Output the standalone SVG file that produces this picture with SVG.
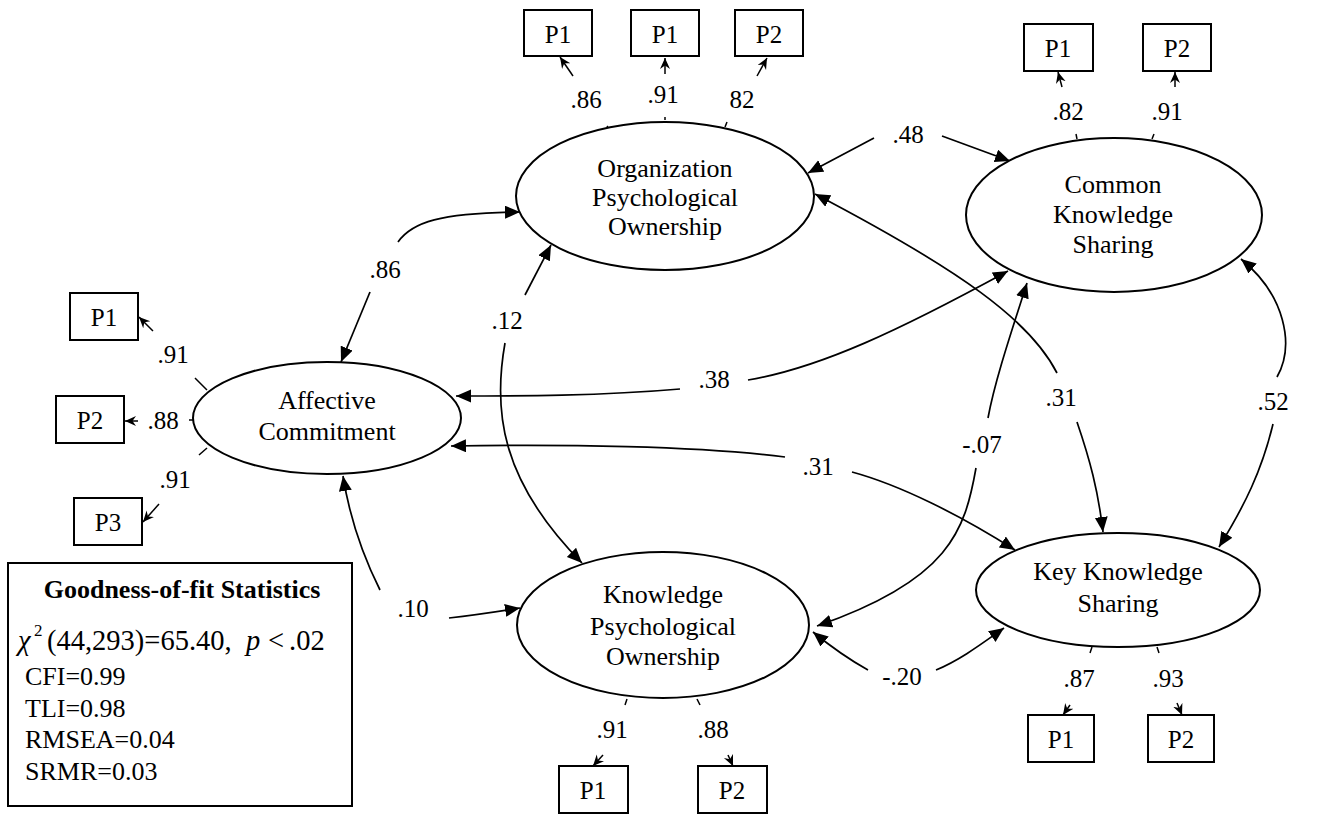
<svg xmlns="http://www.w3.org/2000/svg" width="1326" height="815" viewBox="0 0 1326 815">
<defs>
<style>
.ell{fill:#fff;stroke:#000;stroke-width:2}
.box{fill:#fff;stroke:#000;stroke-width:2}
.t{font-family:"Liberation Serif","Times New Roman",serif;font-size:26px;text-anchor:middle;fill:#000}
.bt{font-family:"Liberation Serif","Times New Roman",serif;font-size:25px;text-anchor:middle;fill:#000}
.lb{font-family:"Liberation Serif","Times New Roman",serif;font-size:25px;text-anchor:middle;fill:#000}
.st{font-family:"Liberation Serif","Times New Roman",serif;font-size:26px;fill:#000}
.chi{font-family:"Liberation Serif","Times New Roman",serif;font-size:28.5px;fill:#000}
.c{fill:none;stroke:#000;stroke-width:1.7;marker-end:url(#big)}
.s{fill:none;stroke:#000;stroke-width:1.5;marker-end:url(#small)}
.tk{fill:none;stroke:#000;stroke-width:1.5}
</style>
<marker id="big" markerUnits="userSpaceOnUse" markerWidth="16" markerHeight="14" refX="15" refY="6.5" orient="auto">
<path d="M0,0 L15,6.5 L0,13 z" fill="#000"/>
</marker>
<marker id="small" markerUnits="userSpaceOnUse" markerWidth="12" markerHeight="11" refX="11" refY="5" orient="auto">
<path d="M0,0 L11,5 L0,10 L3.5,5 z" fill="#000"/>
</marker>
</defs>
<rect width="1326" height="815" fill="#fff"/>

<g id="connectors">
<path class="c" d="M398,242 C412,222 440,213 520,212"/>
<path class="c" d="M370,292 L341,362"/>
<path class="c" d="M525,295 L551,245"/>
<path class="c" d="M505,343 C493,410 500,480 582,563"/>
<path class="c" d="M874,138 L808,173"/>
<path class="c" d="M942,136 L1010,161"/>
<path class="c" d="M1057,373 C1030,320 960,270 815,194"/>
<path class="c" d="M1077,422 C1090,460 1098,490 1103,532"/>
<path class="c" d="M680,389 C600,396 520,396 456,396"/>
<path class="c" d="M748,380 C820,368 900,330 1008,271"/>
<path class="c" d="M785,457 C700,446 560,444 451,446"/>
<path class="c" d="M852,472 C900,485 960,515 1015,550"/>
<path class="c" d="M988,418 C995,380 1012,330 1027,283"/>
<path class="c" d="M976,468 C965,530 950,580 817,626"/>
<path class="c" d="M1277,377 C1295,345 1285,295 1241,259"/>
<path class="c" d="M1273,424 C1262,470 1245,505 1219,547"/>
<path class="c" d="M380,590 C365,560 350,520 343,476"/>
<path class="c" d="M449,618 C475,615 495,612 520,608"/>
<path class="c" d="M868,670 C850,660 835,650 813,632"/>
<path class="c" d="M936,670 C960,660 980,645 1004,628"/>

<path class="tk" d="M607,126 L610,131"/>
<path class="s" d="M573,76 L560,57"/>
<path class="tk" d="M665,117 L665,120"/>
<path class="s" d="M665,74 L665,58"/>
<path class="tk" d="M727,122 L725,127"/>
<path class="s" d="M757,76 L767,58"/>

<path class="tk" d="M1076,134 L1077,139"/>
<path class="tk" d="M1154,134 L1152,139"/>
<path class="s" d="M1062,87 L1058,72"/>
<path class="s" d="M1175,87 L1175,72"/>

<path class="tk" d="M195,378 L207,390"/>
<path class="s" d="M153,331 L139,317"/>
<path class="tk" d="M189,420 L194,420"/>
<path class="s" d="M138,421 L125,421"/>
<path class="tk" d="M207,448 L199,455"/>
<path class="s" d="M159,504 L143,522"/>

<path class="tk" d="M627,699 L625,705"/>
<path class="tk" d="M697,699 L700,705"/>
<path class="s" d="M603,755 L593,766"/>
<path class="s" d="M728,755 L733,766"/>

<path class="tk" d="M1092,647 L1090,653"/>
<path class="tk" d="M1157,647 L1159,653"/>
<path class="s" d="M1070,705 L1063,715"/>
<path class="s" d="M1177,703 L1182,715"/>

<text class="lb" x="385" y="278">.86</text>
<text class="lb" x="507" y="329">.12</text>
<text class="lb" x="908" y="143">.48</text>
<text class="lb" x="1061" y="406">.31</text>
<text class="lb" x="714" y="388">.38</text>
<text class="lb" x="818" y="475">.31</text>
<text class="lb" x="982" y="453">-.07</text>
<text class="lb" x="1273" y="410">.52</text>
<text class="lb" x="413" y="617">.10</text>
<text class="lb" x="902" y="685">-.20</text>

<text class="lb" x="586" y="108">.86</text>
<text class="lb" x="663" y="103">.91</text>
<text class="lb" x="742" y="108">82</text>
<text class="lb" x="1068" y="120">.82</text>
<text class="lb" x="1167" y="120">.91</text>
<text class="lb" x="173" y="363">.91</text>
<text class="lb" x="163" y="429">.88</text>
<text class="lb" x="175" y="488">.91</text>
<text class="lb" x="612" y="738">.91</text>
<text class="lb" x="713" y="738">.88</text>
<text class="lb" x="1079" y="687">.87</text>
<text class="lb" x="1168" y="687">.93</text>
</g>

<g id="node-org-po">
<ellipse class="ell" cx="665" cy="196" rx="149" ry="74"/>
<text class="t" x="665" y="177">Organization</text>
<text class="t" x="665" y="206">Psychological</text>
<text class="t" x="665" y="235">Ownership</text>
</g>
<g id="node-cks">
<ellipse class="ell" cx="1114" cy="215" rx="148" ry="77"/>
<text class="t" x="1113" y="193">Common</text>
<text class="t" x="1113" y="223">Knowledge</text>
<text class="t" x="1113" y="253">Sharing</text>
</g>
<g id="node-ac">
<ellipse class="ell" cx="327" cy="418" rx="134" ry="56"/>
<text class="t" x="327" y="409">Affective</text>
<text class="t" x="327" y="440">Commitment</text>
</g>
<g id="node-kpo">
<ellipse class="ell" cx="663" cy="625" rx="146" ry="73"/>
<text class="t" x="663" y="603">Knowledge</text>
<text class="t" x="663" y="635">Psychological</text>
<text class="t" x="663" y="665">Ownership</text>
</g>
<g id="node-kks">
<ellipse class="ell" cx="1118" cy="590" rx="142" ry="57"/>
<text class="t" x="1118" y="580">Key Knowledge</text>
<text class="t" x="1118" y="612">Sharing</text>
</g>

<g id="org-p1a"><rect class="box" x="524" y="10" width="68" height="46"/><text class="bt" x="558" y="43">P1</text></g>
<g id="org-p1b"><rect class="box" x="631" y="10" width="68" height="46"/><text class="bt" x="665" y="43">P1</text></g>
<g id="org-p2"><rect class="box" x="735" y="10" width="68" height="46"/><text class="bt" x="769" y="43">P2</text></g>
<g id="cks-p1"><rect class="box" x="1024" y="24" width="69" height="47"/><text class="bt" x="1058" y="57">P1</text></g>
<g id="cks-p2"><rect class="box" x="1143" y="24" width="68" height="47"/><text class="bt" x="1177" y="57">P2</text></g>
<g id="ac-p1"><rect class="box" x="70" y="293" width="68" height="47"/><text class="bt" x="104" y="326">P1</text></g>
<g id="ac-p2"><rect class="box" x="56" y="396" width="68" height="47"/><text class="bt" x="90" y="429">P2</text></g>
<g id="ac-p3"><rect class="box" x="74" y="498" width="68" height="47"/><text class="bt" x="108" y="531">P3</text></g>
<g id="kpo-p1"><rect class="box" x="559" y="766" width="69" height="47"/><text class="bt" x="593" y="799">P1</text></g>
<g id="kpo-p2"><rect class="box" x="698" y="766" width="69" height="47"/><text class="bt" x="732" y="799">P2</text></g>
<g id="kks-p1"><rect class="box" x="1028" y="715" width="66" height="47"/><text class="bt" x="1061" y="748">P1</text></g>
<g id="kks-p2"><rect class="box" x="1148" y="715" width="66" height="47"/><text class="bt" x="1181" y="748">P2</text></g>

<g id="fit-stats">
<rect class="box" x="8" y="563" width="344" height="243"/>
<text class="st" x="182" y="598" text-anchor="middle" font-weight="bold">Goodness-of-fit Statistics</text>
<text class="chi" y="650"><tspan x="18" font-style="italic">χ</tspan><tspan x="34" y="636" style="font-size:17px">2</tspan><tspan x="47" y="650">(44,293)=65.40,</tspan><tspan x="246" font-style="italic">p</tspan><tspan x="268">&lt;</tspan><tspan x="289">.02</tspan></text>
<text class="st" x="25" y="685">CFI=0.99</text>
<text class="st" x="25" y="717">TLI=0.98</text>
<text class="st" x="25" y="748">RMSEA=0.04</text>
<text class="st" x="25" y="780">SRMR=0.03</text>
</g>
</svg>
